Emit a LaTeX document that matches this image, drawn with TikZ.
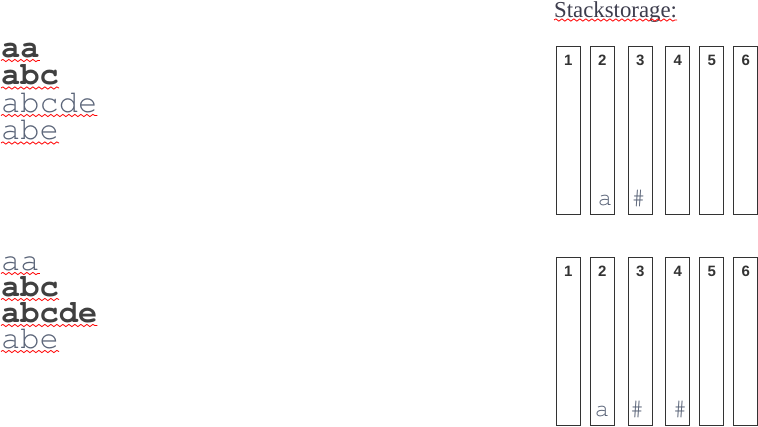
\documentclass[tikz,border=0pt]{standalone}
\usepackage{fontspec}
\setmainfont{Liberation Serif}
\newfontfamily\courfont{TeX Gyre Cursor}
\newfontfamily\arialfont{Liberation Sans}
\usetikzlibrary{decorations.pathmorphing}
\definecolor{darktxt}{HTML}{404040}
\definecolor{lighttxt}{HTML}{5A6478}
\definecolor{boxline}{HTML}{333333}
\definecolor{titletxt}{HTML}{3C3C4C}
\tikzset{
  word/.style={anchor=base west, inner sep=0pt, text height=18pt, text depth=3pt, font=\courfont\fontsize{32}{32}\selectfont},
  boldword/.style={word, text=darktxt, font=\courfont\bfseries\fontsize{32}{32}\selectfont},
  lightword/.style={word, text=lighttxt},
  wavy/.style={draw=red, line width=0.8pt, decorate, decoration={snake, amplitude=1.1pt, segment length=6pt}},
  stk/.style={draw=boxline, line width=0.8pt, minimum width=24pt, minimum height=168pt, inner sep=0pt},
  stknum/.style={font=\arialfont\bfseries\fontsize{15}{15}\selectfont, text=boxline, inner sep=0pt},
  stkval/.style={anchor=base, inner sep=0pt, text=lighttxt, font=\courfont\fontsize{24}{24}\selectfont},
}
\begin{document}
\begin{tikzpicture}[x=1pt,y=-1pt]
\useasboundingbox (0,0) rectangle (758,426);
% title
\node[anchor=base west, inner sep=0pt, text=titletxt, font=\fontsize{22.8}{22.8}\selectfont] (title) at (554,17) {Stackstorage:};
\draw[wavy] ([yshift=-3pt]title.base west) -- ([yshift=-3pt]title.base east);
% first group
\node[boldword] (t1) at (1,57) {aa};
\node[boldword] (t2) at (1,84.5) {abc};
\node[lightword] (t3) at (1,112) {abcde};
\node[lightword] (t4) at (1,139.5) {abe};
% second group
\node[lightword] (u1) at (1,270) {aa};
\node[boldword] (u2) at (1,296) {abc};
\node[boldword] (u3) at (1,322) {abcde};
\node[lightword] (u4) at (1,348) {abe};
\foreach \n in {t1,t2,t3,t4,u1,u2,u3,u4}{
  \draw[wavy] ([yshift=-3.5pt]\n.base west) -- ([yshift=-3.5pt]\n.base east);
}
% stacks
\foreach \i/\x in {1/568.3,2/602.3,3/640.3,4/677.7,5/711.7,6/745.7}{
  \node[stk] (a\i) at (\x,130) {};
  \node[stknum] (an\i) at ([yshift=-15pt]a\i.north) {\i};
  \node[stk] (b\i) at (\x,341) {};
  \node[stknum] (bn\i) at ([yshift=-15pt]b\i.north) {\i};
}
\node[stkval] (av2) at (605,205) {a};
\node[stkval] (av3) at (638.5,205) {\#};
\node[stkval] (bv2) at (602,416.5) {a};
\node[stkval] (bv3) at (637,416.5) {\#};
\node[stkval] (bv4) at (680,416.5) {\#};
\end{tikzpicture}
\end{document}
